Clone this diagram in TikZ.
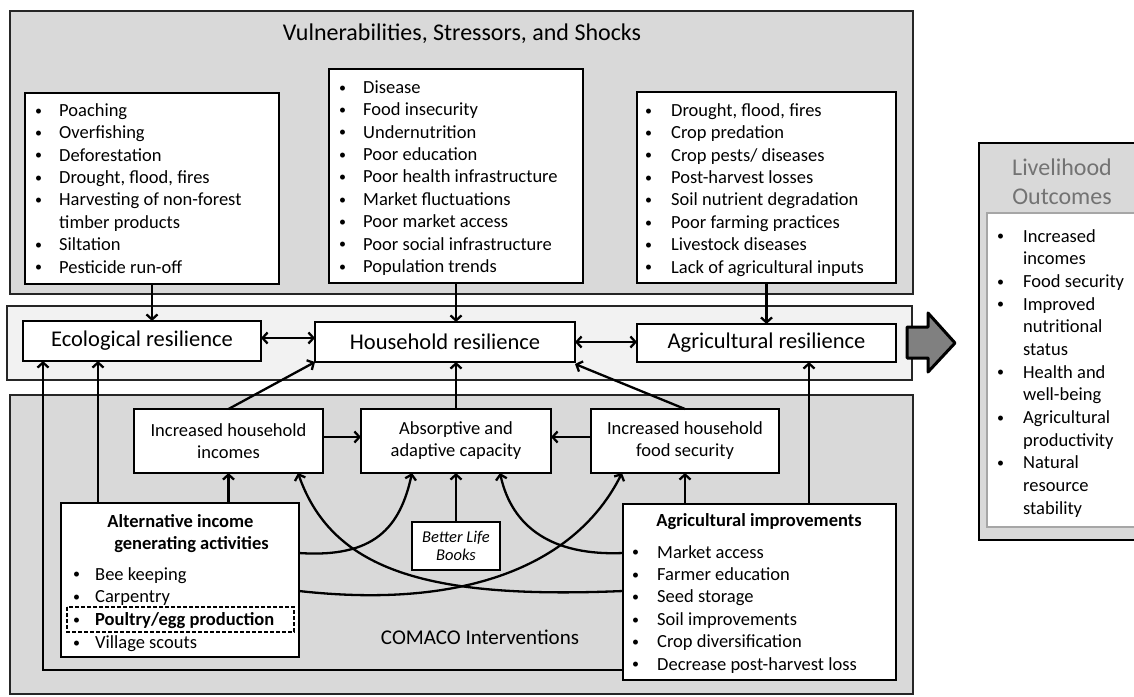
\documentclass[tikz,border=0pt]{standalone}
\usepackage{fontspec}
\setmainfont{Carlito}
\usetikzlibrary{arrows.meta,calc}

\definecolor{panel}{HTML}{D9D9D9}
\definecolor{band}{HTML}{F2F2F2}
\definecolor{bigarrow}{HTML}{808080}
\definecolor{headgray}{HTML}{737373}
\definecolor{rimgray}{HTML}{A6A6A6}
\definecolor{edge}{HTML}{262626}

% bulleted lines: a small bullet in a fixed-width slot, then the text
\newlength\bulw
\newcommand\setbul[1]{\global\bulw=#1\relax}
\newcommand\dotmark{\raisebox{1.3pt}{\fontsize{14}{14}\selectfont\textbullet}}
\newcommand\bitem[1]{\strut\makebox[\bulw][l]{\hspace*{1pt}\dotmark}#1}
\newcommand\bcont[1]{\strut\hspace*{\bulw}#1}

\begin{document}
\begin{tikzpicture}[x=1pt,y=-1pt,
  panelbox/.style={draw=edge, line width=1.4pt, fill=panel},
  box/.style={draw=black, line width=2.2pt, fill=white, inner sep=0pt, outer sep=0pt,
              anchor=north west, align=center},
  lst/.style={anchor=north west, inner sep=0pt, align=left,
              font=\fontsize{18.5}{22.4}\selectfont},
  boxtext/.style={inner sep=0pt, align=center, font=\fontsize{18.5}{22}\selectfont},
  bigtext/.style={inner sep=0pt, align=center, font=\fontsize{24}{29}\selectfont},
  restext/.style={font=\fontsize{22.5}{26}\selectfont},
  midtext/.style={font=\fontsize{18.5}{22}\selectfont},
  conn/.style={line width=2.3pt, -{Straight Barb[length=5pt,width=11pt]}},
  twoway/.style={line width=2.3pt, {Straight Barb[length=5pt,width=11pt]}-{Straight Barb[length=5pt,width=11pt]}}]

\useasboundingbox (0,0) rectangle (1134,696);
\clip (0,0) rectangle (1134,696);

% ---------- background panels ----------
\draw[panelbox] (10,11) rectangle (913,294);
\draw[draw=edge, line width=1.4pt, fill=band] (7,306) rectangle (912,380);
\draw[panelbox] (10,395) rectangle (913,694);
\draw[draw=black, line width=1.6pt, fill=panel] (979,143) rectangle (1150,540);
\draw[draw=rimgray, line width=2.5pt, fill=white] (987,213) rectangle (1145,527);

\node[bigtext] (vtitle) at (462,34) {Vulnerabilities, Stressors, and Shocks};
\node[inner sep=0pt, font=\fontsize{21}{26}\selectfont] (ctitle) at (480,637) {COMACO Interventions};
\node[bigtext, text=headgray] (otitle) at (1062,181.5) {Livelihood\\Outcomes};

% ---------- stressor lists ----------
\node[box, minimum width=254pt, minimum height=191pt] (vleft) at (25,93) {};
\setbul{25pt}
\node[lst] (vleftlist) at (34,100.5) {%
  \bitem{Poaching}\\ \bitem{Overfishing}\\ \bitem{Deforestation}\\
  \bitem{Drought, flood, fires}\\ \bitem{Harvesting of non-forest}\\
  \bcont{timber products}\\ \bitem{Siltation}\\ \bitem{Pesticide run-off}};

\node[box, minimum width=254pt, minimum height=214pt] (vmid) at (329,69) {};
\setbul{25pt}
\node[lst] (vmidlist) at (338,77.5) {%
  \bitem{Disease}\\ \bitem{Food insecurity}\\ \bitem{Undernutrition}\\
  \bitem{Poor education}\\ \bitem{Poor health infrastructure}\\
  \bitem{Market fluctuations}\\ \bitem{Poor market access}\\
  \bitem{Poor social infrastructure}\\ \bitem{Population trends}};

\node[box, minimum width=259pt, minimum height=191pt] (vright) at (637,92) {};
\setbul{27pt}
\node[lst] (vrightlist) at (644,100.5) {%
  \bitem{Drought, flood, fires}\\ \bitem{Crop predation}\\
  \bitem{Crop pests/ diseases}\\ \bitem{Post-harvest losses}\\
  \bitem{Soil nutrient degradation}\\ \bitem{Poor farming practices}\\
  \bitem{Livestock diseases}\\ \bitem{Lack of agricultural inputs}};

% ---------- resilience row ----------
\node[box, restext, minimum width=238pt, minimum height=40pt] (eco) at (23,321) {Ecological resilience};
\node[box, restext, minimum width=260pt, minimum height=40pt] (hh) at (315,322) {Household resilience};
\node[box, restext, minimum width=259pt, minimum height=38pt] (ar) at (637,324) {Agricultural resilience};

\draw[draw=black, line width=3pt, line join=round, fill=bigarrow]
  (907,327) -- (928,327) -- (928,313) -- (955,343) -- (928,372) -- (928,358) -- (907,358) -- cycle;

% ---------- intervention row ----------
\node[box, midtext, minimum width=189pt, minimum height=64pt] (inc) at (134,409) {Increased household\\incomes};
\node[box, midtext, minimum width=190pt, minimum height=64pt] (abs) at (361,409) {Absorptive and\\adaptive capacity};
\node[box, midtext, minimum width=188pt, minimum height=64pt] (food) at (591,409) {Increased household\\food security};

\node[box, minimum width=238pt, minimum height=154pt] (alt) at (61,503) {};
\node[boxtext, font=\bfseries\fontsize{18.5}{22}\selectfont] (alttitle) at (186,534)
  {Alternative income\hspace*{11pt}\\\hspace*{11pt}generating activities};
\draw[dash pattern=on 4pt off 2pt, line width=1.5pt] (67,607) rectangle (294,632);
\setbul{23pt}
\node[lst, font=\fontsize{18.5}{22.8}\selectfont] (altlist) at (72,564) {%
  \bitem{Bee keeping}\\ \bitem{Carpentry}\\
  \bitem{\textbf{Poultry/egg production}}\\ \bitem{Village scouts}};

\node[box, minimum width=88pt, minimum height=48pt, font=\itshape\fontsize{16.5}{18.5}\selectfont] (blb) at (412,522) {Better Life\\Books};

\node[box, minimum width=273pt, minimum height=176pt] (ai) at (623,504) {};
\node[boxtext, font=\bfseries\fontsize{18.5}{22}\selectfont] (aititle) at (759,522) {Agricultural improvements};
\setbul{26pt}
\node[lst] (ailist) at (631,542.3) {%
  \bitem{Market access}\\ \bitem{Farmer education}\\ \bitem{Seed storage}\\
  \bitem{Soil improvements}\\ \bitem{Crop diversification}\\
  \bitem{Decrease post-harvest loss}};

% ---------- livelihood outcomes list ----------
\setbul{27pt}
\node[lst, font=\fontsize{18.5}{22.67}\selectfont] (outlist) at (996,226) {%
  \bitem{Increased}\\ \bcont{incomes}\\ \bitem{Food security}\\
  \bitem{Improved}\\ \bcont{nutritional}\\ \bcont{status}\\
  \bitem{Health and}\\ \bcont{well-being}\\ \bitem{Agricultural}\\
  \bcont{productivity}\\ \bitem{Natural}\\ \bcont{resource}\\ \bcont{stability}};

% ---------- connectors ----------
\draw[conn] (vleft.south) -- (vleft.south |- eco.north);
\draw[conn] (vmid.south) -- (vmid.south |- hh.north);
\draw[conn] (vright.south) -- (vright.south |- ar.north);

\draw[twoway] ([yshift=3pt]eco.east) -- ([yshift=3pt]eco.east -| hh.west);
\draw[twoway] (hh.east) -- (hh.east -| ar.west);

\draw[conn] (inc.north) -- (hh.south west);
\draw[conn] (abs.north) -- (abs.north |- hh.south);
\draw[conn] (food.north) -- ([yshift=-2pt]hh.south east);

\draw[conn] ([yshift=4pt]inc.east) -- ([yshift=4pt]abs.west);
\draw[conn] ([yshift=4pt]food.west) -- ([yshift=4pt]abs.east);

\draw[conn] (inc.south |- alt.north) -- (inc.south);
\draw[conn] (blb.north) -- (blb.north |- abs.south);
\draw[conn] (food.south |- ai.north) -- (food.south);

\draw[conn] ([xshift=37pt]alt.north west) -- ([xshift=37pt]alt.north west |- eco.south);
\draw[conn] ([xshift=186pt]ai.north west) -- ([xshift=186pt]ai.north west |- ar.south);
\draw[conn] ([yshift=10pt]ai.south west) -| ([xshift=20pt]eco.south west);

\draw[conn] ([yshift=27pt]alt.east) .. controls +(75,5) and +(-12,55) .. ([xshift=51pt]abs.south west);
\draw[conn] ([yshift=-11pt]alt.east) .. controls +(170,19) and +(-45,90) .. ([xshift=31pt]food.south west);
\draw[conn] ([yshift=39pt]ai.west) .. controls +(-70,3) and +(12,55) .. ([xshift=-51pt]abs.south east);
\draw[conn] ([yshift=1pt]ai.west) .. controls +(-190,8) and +(35,100) .. ([xshift=-25pt]inc.south east);

\end{tikzpicture}
\end{document}
